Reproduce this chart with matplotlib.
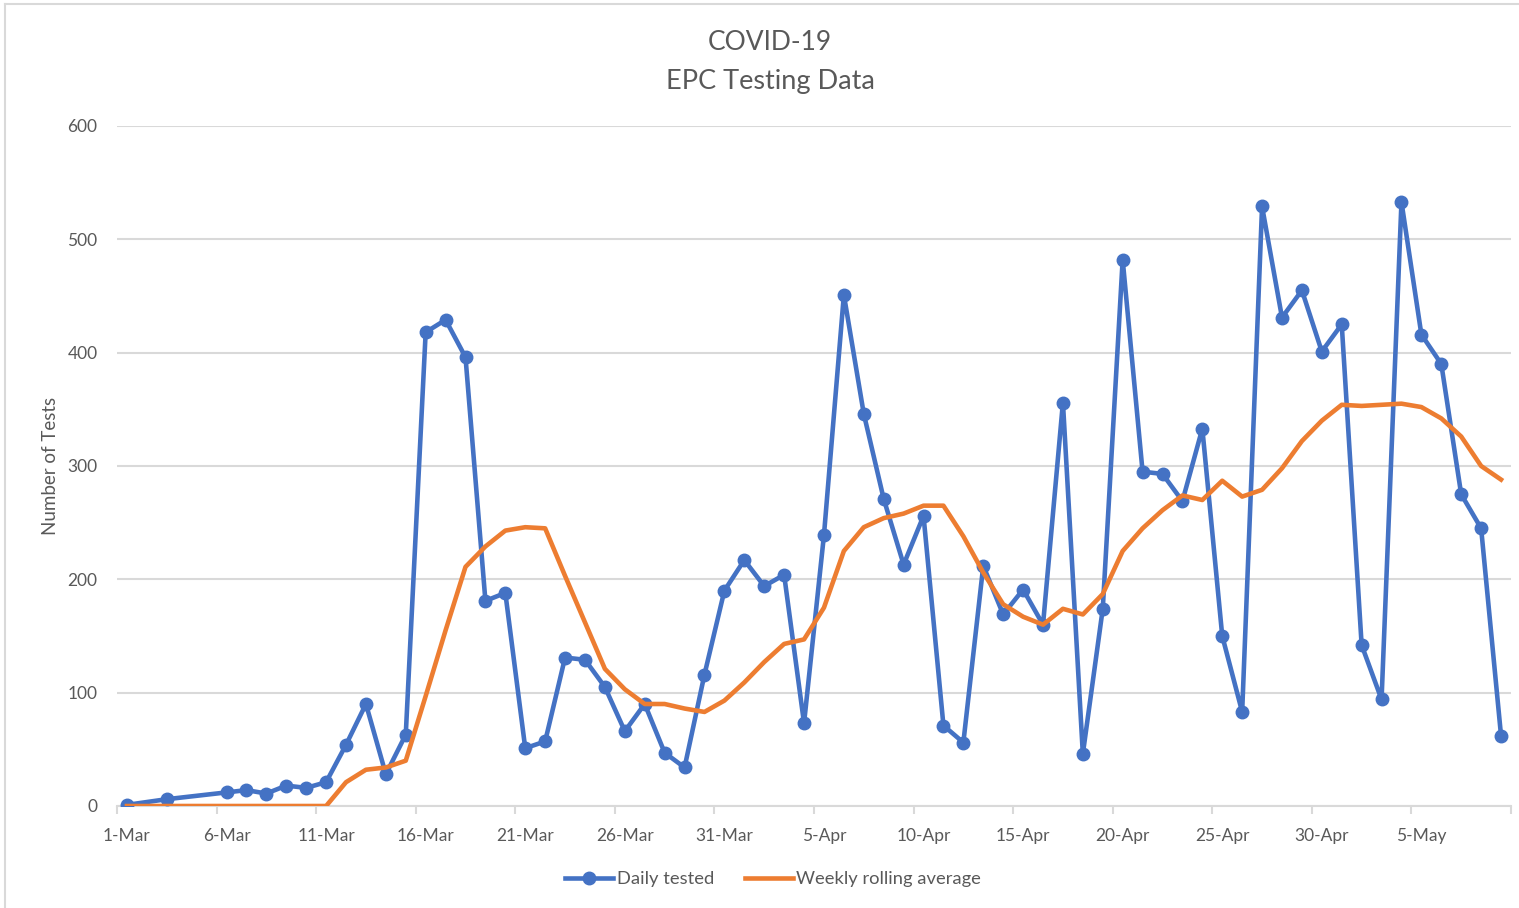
import matplotlib
matplotlib.use("Agg")
import matplotlib.pyplot as plt
from matplotlib.lines import Line2D
import numpy as np
import pandas as pd

plt.rcParams['font.family'] = ['Lato', 'DejaVu Sans']

# 1-Mar .. 9-May (70 days); None = no entry that day
dates = pd.date_range("2020-03-01", periods=70)
daily_tested = [1, None, 6, None, None, 12, 14, 11, 18, 16,
                21, 54, 90, 28, 63, 418, 429, 396, 181, 188,
                51, 57, 131, 129, 105, 66, 90, 47, 34, 116,
                190, 217, 194, 204, 73, 239, 451, 346, 271, 213,
                256, 71, 56, 212, 169, 191, 160, 356, 46, 174,
                482, 295, 293, 269, 333, 150, 83, 529, 431, 455,
                401, 425, 142, 94, 533, 416, 390, 275, 245, 62]
weekly_avg = [0, 0, 0, 0, 0, 0, 0, 0, 0, 0,
              0, 21, 32, 34, 40, 97, 155, 211, 229, 243,
              246, 245, 203, 162, 121, 103, 90, 90, 86, 83,
              93, 109, 127, 143, 147, 175, 225, 246, 254, 258,
              265, 265, 238, 206, 178, 167, 160, 174, 169, 187,
              225, 245, 261, 274, 270, 287, 273, 279, 298, 322,
              340, 354, 353, 354, 355, 352, 342, 326, 300, 288]

BLUE = "#4472C4"
ORANGE = "#ED7D31"
GRID = "#D9D9D9"
TXT = "#595959"

fig = plt.figure(figsize=(15.19, 9.08), dpi=100)
ax = fig.add_axes([117/1519, 1-806/908, (1511-117)/1519, (806-126)/908])

x = np.arange(len(dates))
d = np.array([np.nan if v is None else v for v in daily_tested], dtype=float)
ok = ~np.isnan(d)

ax.plot(x[ok], d[ok], color=BLUE, lw=3.3, marker="o", ms=9,
        solid_joinstyle="round", label="Daily tested", zorder=3)
ax.plot(x, weekly_avg, color=ORANGE, lw=3.3, solid_joinstyle="round",
        label="Weekly rolling average", zorder=4)

ax.set_xlim(-0.5, 69.5)
ax.set_ylim(0, 600)
ax.set_yticks(range(0, 601, 100))
ax.yaxis.grid(True, color=GRID, lw=1.5)
ax.set_axisbelow(True)

lab_pos = list(range(0, 70, 5))
ax.set_xticks(lab_pos)
ax.set_xticklabels([f"{dates[i].day}-{dates[i]:%b}" for i in lab_pos])
ax.set_xticks(np.arange(-0.5, 70, 5), minor=True)
ax.tick_params(axis="x", which="major", length=0, labelsize=12.5, labelcolor=TXT, pad=16)
ax.tick_params(axis="x", which="minor", length=6, width=1.5, color=GRID)
ax.tick_params(axis="y", length=0, labelsize=12.5, labelcolor=TXT, pad=14)

for s in ["top", "right", "left"]:
    ax.spines[s].set_visible(False)
ax.spines["bottom"].set_color(GRID)
ax.spines["bottom"].set_linewidth(1.5)

ax.set_ylabel("Number of Tests", fontsize=13.5, color=TXT, labelpad=6)

fig.text(0.507, 1-43/908, "COVID-19", ha="center", va="center", fontsize=19, color=TXT)
fig.text(0.507, 1-82/908, "EPC Testing Data", ha="center", va="center", fontsize=19.5, color=TXT)

ax.legend(loc="center", bbox_to_anchor=(0.509, 1-879/908), bbox_transform=fig.transFigure,
          ncol=2, frameon=False, fontsize=13.2, labelcolor=TXT, handlelength=2.6,
          handletextpad=0.2, columnspacing=1.7)

# chart-area border (top and left visible)
fig.add_artist(Line2D([5/1519, 1], [1-4/908, 1-4/908], color=GRID, lw=1.5))
fig.add_artist(Line2D([5/1519, 5/1519], [0, 1-4/908], color=GRID, lw=1.5))

fig.savefig("out.png", dpi=100)
